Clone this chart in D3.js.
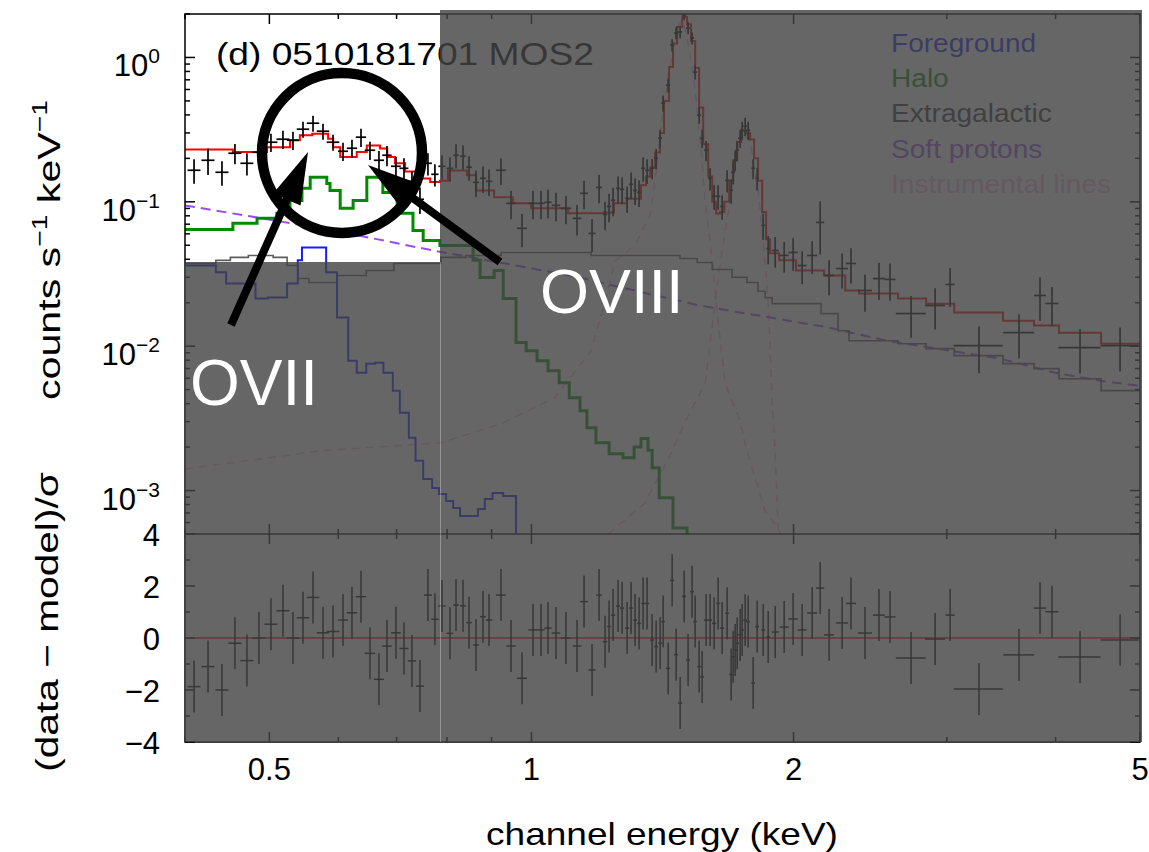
<!DOCTYPE html>
<html>
<head>
<meta charset="utf-8">
<script src="https://cdn.jsdelivr.net/npm/d3@7"></script>
<style>
  body { margin: 0; background: #ffffff; }
  svg { display: block; }
  text { font-family: "Liberation Sans", Arial, Helvetica, sans-serif; }
</style>
</head>
<body>
<svg id="chart" width="1149" height="852"></svg>
<script>
// ---------------- Spectrum data (keV, counts s^-1 keV^-1) ----------------
const dataE = [0.4097,0.4251,0.4411,0.4565,0.4712,0.4864,0.5021,0.5183,0.5322,0.5465,0.5612,0.5762,0.5917,0.6075,0.6221,0.6371,0.6524,0.6681,0.6824,0.6988,0.7138,0.7290,0.7446,0.7605,0.7747,
  0.7892,0.8061,0.8191,0.8344,0.8478,0.8635,0.8797,0.8939,0.9226,0.9474,0.9753,1.0041,1.0256,1.0447,1.0671,1.0956,1.1281,1.1492,1.1738,1.1958,
  1.2149,1.2278,1.2409,1.2574,1.2708,1.2878,1.3015,1.3153,1.3293,1.3435,1.3578,1.3759,1.3906,1.4053,1.4166,1.4354,1.4507,1.4661,1.4818,1.4973,1.5132,1.5293,1.5416,1.5580,1.5704,
  1.5871,1.6040,1.6211,1.6383,1.6558,1.6778,1.6956,1.7048,1.7138,1.7229,1.7366,1.7458,1.7597,1.7737,1.7974,1.8165,1.8456,1.8702,
  1.9052,1.9510,1.9979,2.0460,2.1009,2.1458,2.1973,2.2742,2.3281,2.4160,2.5070,2.5812,
  2.7291,2.9082,3.0259,3.2661,3.6309,3.8381,3.9620,4.2668,4.7435];
const dataDE = [0.0070,0.0073,0.0076,0.0079,0.0081,0.0084,0.0086,0.0089,0.0085,0.0090,0.0092,0.0095,0.0098,0.0080,0.0085,0.0087,0.0090,0.0090,0.0085,0.0090,0.0085,0.0080,0.0080,0.0080,0.0075,
  0.0075,0.0070,0.0060,0.0065,0.0065,0.0070,0.0070,0.0075,0.0120,0.0120,0.0130,0.0120,0.0100,0.0100,0.0120,0.0150,0.0130,0.0120,0.0110,0.0095,
  0.007,0.007,0.007,0.007,0.007,0.007,0.007,0.007,0.007,0.007,0.007,0.007,0.007,0.007,0.007,0.008,0.008,0.008,0.008,0.008,0.008,0.008,0.008,0.008,0.008,
  0.009,0.009,0.009,0.009,0.009,0.009,0.009,0.009,0.009,0.009,0.009,0.009,0.009,0.009,0.009,0.009,0.009,0.009,
  0.018,0.023,0.024,0.024,0.028,0.023,0.029,0.036,0.031,0.045,0.040,0.038,
  0.108,0.077,0.036,0.212,0.149,0.061,0.068,0.237,0.238];
const dataRate = [0.1654,0.1940,0.1602,0.2170,0.1849,0.2205,0.2587,0.2714,0.2671,0.3184,0.3504,0.3084,0.2587,0.2240,0.2350,0.2803,0.2277,0.1940,0.2102,0.1763,0.1707,0.1387,0.1041,0.1849,0.1551,
  0.1763,0.1707,0.2102,0.2068,0.1735,0.1365,0.1455,0.1387,0.1654,0.0976,0.0655,0.0976,0.0976,0.0992,0.0945,0.0901,0.0768,0.1145,0.0604,0.1260,
  0.0818,0.0930,0.1024,0.1240,0.1220,0.1057,0.1322,0.1201,0.1163,0.1707,0.1654,0.1707,0.2003,0.2758,0.4825,0.6432,1.2187,1.4765,1.5003,1.968,1.5993,1.3629,0.7917,0.3983,0.2758,
  0.2277,0.1455,0.1092,0.1092,0.0930,0.1409,0.1201,0.1602,0.1940,0.2277,0.2758,0.3133,0.3341,0.3133,0.1707,0.1455,0.0687,0.0475,
  0.0460,0.0425,0.0446,0.0362,0.0425,0.0720,0.0309,0.0345,0.0374,0.0243,0.0294,0.0290,
  0.01683,0.01913,0.02675,0.01009,0.01242,0.02244,0.01975,0.00978,0.01009];
const dataErr = [0.0318,0.0404,0.0308,0.0347,0.0325,0.0353,0.0373,0.0391,0.0385,0.0408,0.0449,0.0395,0.0331,0.0323,0.0338,0.0404,0.0328,0.0310,0.0336,0.0282,0.0300,0.0244,0.0217,0.0325,0.0273,
  0.0338,0.0328,0.0404,0.0397,0.0333,0.0284,0.0303,0.0289,0.0344,0.0219,0.0168,0.0219,0.0219,0.0222,0.0212,0.0202,0.0184,0.0256,0.0155,0.0282,
  0.0183,0.0208,0.0229,0.0258,0.0254,0.0220,0.0275,0.0250,0.0242,0.0328,0.0318,0.0273,0.0320,0.0397,0.0618,0.0720,0.117,0.142,0.144,0.157,0.154,0.131,0.0887,0.0510,0.0397,
  0.0364,0.0256,0.0210,0.0210,0.0179,0.0248,0.0231,0.0282,0.0310,0.0364,0.0397,0.0451,0.0481,0.0451,0.0273,0.0256,0.0143,0.0106,
  0.0110,0.0102,0.0114,0.0093,0.0109,0.0288,0.0084,0.0094,0.0102,0.0070,0.0085,0.0084,
  0.0054,0.0061,0.0081,0.0036,0.0042,0.0075,0.0060,0.0033,0.0034];
// (data - model)/sigma
const dataResid = [-1.87,-1.1,-2.0,-0.2,-0.87,0.0,0.53,1.05,0.0,0.78,1.56,0.2,0.25,0.69,0.97,1.59,-0.59,-1.59,-0.31,0.2,-0.4,-0.88,-1.85,1.65,0.72,
  1.23,0.18,1.27,1.24,0.59,-0.27,0.82,0.69,1.65,-0.31,-1.55,0.31,0.31,0.38,0.19,0.0,-0.31,1.4,-1.23,1.65,
  -0.14,0.44,0.88,1.23,1.15,0.38,1.15,0.69,0.56,1.33,1.33,-0.08,-0.33,-0.2,0.63,-1.17,2.22,-0.64,-2.5,1.6,-0.85,1.78,0.63,-1.1,-1.5,
  0.69,0.69,0.56,1.33,0.38,0.95,-1.4,-0.72,-0.46,-0.2,0.12,0.31,0.69,0.63,-1.73,0.44,0.31,0.04,
  0.23,0.42,0.73,0.31,0.96,1.92,0.12,0.58,1.33,0.19,0.88,0.81,
  -0.77,-0.04,0.88,-1.96,-0.65,1.15,1.01,-0.73,-0.08];

// ---------------- Model components: [energy keV, counts s^-1 keV^-1] ----------------
const totalModel = [[0.40,0.230],[0.454,0.221],[0.497,0.239],[0.528,0.267],[0.542,0.289],[0.560,0.296],[0.584,0.274],[0.592,0.239],[0.603,0.204],[0.630,0.221],[0.647,0.246],[0.670,0.234],[0.683,0.204],[0.697,0.185],[0.716,0.162],[0.739,0.145],[0.765,0.137],[0.785,0.140],[0.802,0.165],[0.843,0.153],[0.864,0.120],[0.906,0.1075],[0.952,0.0976],[0.999,0.0901],[1.102,0.0832],[1.211,0.0845],[1.244,0.0976],[1.287,0.105],[1.336,0.130],[1.354,0.150],[1.369,0.173],[1.387,0.22],[1.405,0.30],[1.420,0.50],[1.439,0.86],[1.454,1.25],[1.470,1.63],[1.490,1.91],[1.509,1.70],[1.525,1.30],[1.542,0.85],[1.558,0.45],[1.575,0.25],[1.596,0.15],[1.613,0.10],[1.630,0.083],[1.647,0.085],[1.665,0.10],[1.687,0.14],[1.705,0.194],[1.723,0.26],[1.741,0.31],[1.764,0.30],[1.783,0.27],[1.802,0.20],[1.821,0.14],[1.841,0.085],[1.860,0.055],[1.879,0.044],[1.925,0.0393],[2.013,0.0335],[2.168,0.0309],[2.293,0.0243],[2.379,0.0232],[2.636,0.0214],[2.840,0.0197],[3.059,0.0171],[3.480,0.0150],[3.778,0.0139],[4.036,0.0124],[4.511,0.0104],[5.0,0.0104]];
const haloModel = [[0.40,0.0644],[0.454,0.0710],[0.484,0.0768],[0.510,0.0832],[0.528,0.102],[0.545,0.124],[0.557,0.148],[0.582,0.134],[0.587,0.120],[0.603,0.0901],[0.624,0.102],[0.647,0.148],[0.675,0.116],[0.701,0.0832],[0.731,0.0634],[0.751,0.0540],[0.785,0.0499],[0.857,0.0393],[0.873,0.0299],[0.906,0.0335],[0.928,0.0214],[0.960,0.0106],[0.986,0.0093],[1.015,0.00794],[1.045,0.00676],[1.076,0.00558],[1.105,0.00440],[1.137,0.00357],[1.158,0.00272],[1.186,0.00214],[1.228,0.00180],[1.274,0.00169],[1.312,0.00200],[1.336,0.00229],[1.361,0.00190],[1.376,0.00144],[1.402,0.00089],[1.454,0.00055],[1.509,0.00032],[5.0,0.00032]];
const foregroundModel = [[0.40,0.0362],[0.434,0.0325],[0.446,0.0272],[0.482,0.0214],[0.498,0.0217],[0.524,0.0272],[0.539,0.0393],[0.545,0.0483],[0.581,0.0325],[0.598,0.0158],[0.616,0.00794],[0.630,0.00655],[0.646,0.00757],[0.661,0.00769],[0.676,0.00655],[0.693,0.00492],[0.706,0.00346],[0.723,0.00232],[0.736,0.00161],[0.751,0.00120],[0.769,0.00104],[0.783,0.000948],[0.798,0.000848],[0.813,0.000758],[0.828,0.000667],[0.868,0.000746],[0.884,0.000875],[0.902,0.000963],[0.928,0.000918],[0.960,0.0004],[5.0,0.0004]];
const extragalacticModel = [[0.40,0.0374],[0.434,0.0393],[0.451,0.0412],[0.473,0.0425],[0.505,0.0412],[0.524,0.0362],[0.539,0.0294],[0.555,0.0276],[0.598,0.0309],[0.646,0.0334],[0.695,0.0374],[0.787,0.0412],[0.841,0.0425],[0.923,0.0446],[1.171,0.0425],[1.481,0.0405],[1.55,0.0380],[1.613,0.0340],[1.70,0.0300],[1.768,0.0276],[1.82,0.0240],[1.855,0.0217],[1.890,0.0197],[2.151,0.0168],[2.250,0.0128],[2.316,0.0109],[2.636,0.0104],[2.840,0.00962],[3.059,0.00860],[3.480,0.00757],[3.778,0.00699],[4.036,0.00595],[4.511,0.00492],[5.0,0.00492]];
const softProtonModel = [[0.40,0.0945],[0.475,0.0793],[0.592,0.0634],[0.771,0.0460],[0.920,0.0380],[1.137,0.0299],[1.199,0.0276],[1.562,0.0191],[2.191,0.0135],[2.561,0.0109],[3.026,0.0093],[3.453,0.0082],[3.994,0.00655],[4.499,0.00576],[5.0,0.00532]];
const alLineModel = [[0.40,0.00141],[0.576,0.00189],[0.787,0.00214],[0.923,0.00290],[1.064,0.00440],[1.171,0.00932],[1.215,0.0204],[1.247,0.0385],[1.315,0.050],[1.369,0.081],[1.391,0.165],[1.412,0.37],[1.439,0.80],[1.470,1.58],[1.490,1.86],[1.509,1.42],[1.542,0.594],[1.566,0.228],[1.583,0.1023],[1.613,0.0393],[1.638,0.0150],[1.669,0.0055],[1.736,0.00304],[1.768,0.00189],[1.855,0.000723],[1.920,0.000551],[1.98,0.00035]];
const siLineModel = [[1.2246,0.0005],[1.347,0.000809],[1.439,0.00169],[1.509,0.00319],[1.583,0.0055],[1.630,0.0232],[1.656,0.046],[1.691,0.1023],[1.723,0.228],[1.754,0.29],[1.783,0.267],[1.821,0.120],[1.850,0.046],[1.870,0.0207],[1.890,0.00419],[1.905,0.00189],[1.920,0.000551],[1.930,0.00033]];

// ---------------- Axis ticks and texts ----------------
const xTickValues = [0.4,0.5,0.6,0.7,0.8,0.9,1,2,3,4,5];
const xTickLabels = ["0.5","1","2","5"];
const yDecades = [-3,-2,-1,0];
const residTicks = [-4,-3,-2,-1,0,1,2,3,4];
const residTickLabels = ["4","2","0","\u22122","\u22124"];
const legendLabels = ["Foreground","Halo","Extragalactic","Soft protons","Instrumental lines"];
const titleText = "(d) 0510181701 MOS2";

// ---------------- Layout ----------------
const L = 185, R = 1140, T = 14, MID = 534, B = 742;
const svg = d3.select("#chart");

const x = d3.scaleLog().domain([0.4, 5]).range([L, R]);
const y = d3.scaleLog().domain([5e-4, 2]).range([MID, T]);
const yr = d3.scaleLinear().domain([-4, 4]).range([B, MID]);

const defs = svg.append("defs");
defs.append("clipPath").attr("id", "clipTop").append("rect")
  .attr("x", L).attr("y", T).attr("width", R - L).attr("height", MID - T);
defs.append("clipPath").attr("id", "clipBot").append("rect")
  .attr("x", L).attr("y", MID).attr("width", R - L).attr("height", B - MID);

const colors = {
  total: "#ff0000", halo: "#008a00", fore: "#1a1aff", extra: "#5c5c5c",
  soft: "#9b4dea", instr: "#f2b6d6"
};

const upper = svg.append("g").attr("clip-path", "url(#clipTop)");
const lineLin = d3.line().x(d => x(d[0])).y(d => y(d[1]));
const lineStep = d3.line().x(d => x(d[0])).y(d => y(d[1])).curve(d3.curveStepAfter);

// instrumental lines (dashed)
[alLineModel, siLineModel].forEach(m => {
  upper.append("path").attr("d", lineLin(m)).attr("fill", "none")
    .attr("stroke", colors.instr).attr("stroke-width", 1.6).attr("stroke-dasharray", "8,6");
});
// soft protons (dashed)
upper.append("path").attr("d", lineLin(softProtonModel)).attr("fill", "none")
  .attr("stroke", colors.soft).attr("stroke-width", 2).attr("stroke-dasharray", "10,6");
// extragalactic
upper.append("path").attr("d", lineStep(extragalacticModel)).attr("fill", "none")
  .attr("stroke", colors.extra).attr("stroke-width", 1.6);
// foreground
upper.append("path").attr("d", lineStep(foregroundModel)).attr("fill", "none")
  .attr("stroke", colors.fore).attr("stroke-width", 2);
// halo
upper.append("path").attr("d", lineStep(haloModel)).attr("fill", "none")
  .attr("stroke", colors.halo).attr("stroke-width", 3);
// total model
upper.append("path").attr("d", lineStep(totalModel)).attr("fill", "none")
  .attr("stroke", colors.total).attr("stroke-width", 2);

// data crosses
const idx = d3.range(dataE.length);
const cross = upper.append("g").attr("stroke", "#000").attr("stroke-width", 1.7);
cross.selectAll("line.h").data(idx).join("line").attr("class", "h")
  .attr("x1", i => x(dataE[i] - dataDE[i])).attr("x2", i => x(dataE[i] + dataDE[i]))
  .attr("y1", i => y(dataRate[i])).attr("y2", i => y(dataRate[i]));
cross.selectAll("line.v").data(idx).join("line").attr("class", "v")
  .attr("x1", i => x(dataE[i])).attr("x2", i => x(dataE[i]))
  .attr("y1", i => y(Math.max(dataRate[i] - dataErr[i], 1e-6)))
  .attr("y2", i => y(dataRate[i] + dataErr[i]));

// residual panel
const lower = svg.append("g").attr("clip-path", "url(#clipBot)");
lower.append("line").attr("x1", L).attr("x2", R).attr("y1", yr(0)).attr("y2", yr(0))
  .attr("stroke", colors.total).attr("stroke-width", 1.3);
const rc = lower.append("g").attr("stroke", "#000").attr("stroke-width", 1.5);
rc.selectAll("line.h").data(idx).join("line").attr("class", "h")
  .attr("x1", i => x(dataE[i] - dataDE[i])).attr("x2", i => x(dataE[i] + dataDE[i]))
  .attr("y1", i => yr(dataResid[i])).attr("y2", i => yr(dataResid[i]));
rc.selectAll("line.v").data(idx).join("line").attr("class", "v")
  .attr("x1", i => x(dataE[i])).attr("x2", i => x(dataE[i]))
  .attr("y1", i => yr(dataResid[i] - 1)).attr("y2", i => yr(dataResid[i] + 1));

// frame and ticks
const axes = svg.append("g").attr("stroke", "#000").attr("stroke-width", 1.5).attr("fill", "none");
axes.append("rect").attr("x", L).attr("y", T).attr("width", R - L).attr("height", B - T);
axes.append("line").attr("x1", L).attr("x2", R).attr("y1", MID).attr("y2", MID);
const MAJ = 10, MIN = 5;
const isMajorX = v => [0.5, 1, 2, 5].includes(v);
xTickValues.forEach(v => {
  const len = isMajorX(v) ? MAJ : MIN, px = x(v);
  [[T, 1], [MID, -1], [MID, 1], [B, -1]].forEach(([y0, dir]) => {
    axes.append("line").attr("x1", px).attr("x2", px).attr("y1", y0).attr("y2", y0 + dir * len);
  });
});
const yTickValues = [];
yDecades.concat([-4]).forEach(n => {
  for (let k = 1; k <= 9; k++) {
    const v = k * Math.pow(10, n);
    if (v >= 5e-4 - 1e-12 && v <= 2 + 1e-9) yTickValues.push({ v, major: k === 1 });
  }
});
yTickValues.forEach(t => {
  const len = t.major ? MAJ : MIN, py = y(t.v);
  axes.append("line").attr("x1", L).attr("x2", L + len).attr("y1", py).attr("y2", py);
  axes.append("line").attr("x1", R).attr("x2", R - len).attr("y1", py).attr("y2", py);
});
residTicks.forEach(v => {
  const len = v % 2 === 0 ? MAJ : MIN, py = yr(v);
  axes.append("line").attr("x1", L).attr("x2", L + len).attr("y1", py).attr("y2", py);
  axes.append("line").attr("x1", R).attr("x2", R - len).attr("y1", py).attr("y2", py);
});

// tick labels
const labels = svg.append("g").attr("fill", "#000");
[0.5, 1, 2, 5].forEach((v, i) => {
  labels.append("text").attr("x", x(v)).attr("y", 780).attr("text-anchor", "middle")
    .attr("font-size", 31).text(xTickLabels[i]);
});
yDecades.forEach(n => {
  const t = labels.append("text").attr("x", 160).attr("y", y(Math.pow(10, n)) + 19)
    .attr("text-anchor", "end").attr("font-size", 31);
  t.append("tspan").text("10");
  t.append("tspan").attr("dy", -13).attr("font-size", 21).text(n === 0 ? "0" : "\u2212" + Math.abs(n));
});
[4, 2, 0, -2, -4].forEach((v, i) => {
  labels.append("text").attr("x", 160).attr("y", yr(v) + 12).attr("text-anchor", "end")
    .attr("font-size", 31).text(residTickLabels[i]);
});

// stretch a text element horizontally to a given width
function stretch(sel, tx, ty, rot, width) {
  const w = sel.node().getBBox().width;
  sel.attr("transform", `translate(${tx},${ty}) rotate(${rot}) scale(${width / w},1)`);
}

// axis titles
const xl = labels.append("text").attr("text-anchor", "middle").attr("font-size", 32)
  .text("channel energy (keV)");
stretch(xl, 662, 845, 0, 352);

const yl = labels.append("text").attr("text-anchor", "middle").attr("font-size", 32);
yl.append("tspan").text("counts s");
yl.append("tspan").attr("dy", -13).attr("font-size", 22).text("\u22121");
yl.append("tspan").attr("dy", 13).text(" keV");
yl.append("tspan").attr("dy", -13).attr("font-size", 22).text("\u22121");
stretch(yl, 60, 250, -90, 300);

const rl = labels.append("text").attr("text-anchor", "middle").attr("font-size", 32)
  .text("(data \u2212 model)/\u03c3");
stretch(rl, 58, 622, -90, 300);

// panel title
const tt = labels.append("text").attr("font-size", 31).text(titleText);
stretch(tt, 216, 65, 0, 378);

// legend
const legendColors = [colors.fore, colors.halo, "#333333", colors.soft, colors.instr];
legendLabels.forEach((s, i) => {
  const t = svg.append("text").attr("font-size", 26).attr("fill", legendColors[i]).text(s);
  const w = t.node().getBBox().width;
  stretch(t, 891, 52 + i * 35.2, 0, w * 1.08);
});

// ---------------- shading over the plot, leaving the soft-band window clear ----------------
svg.append("path")
  .attr("d", `M440,10 H1142 V${B} H184 V262 H440 Z`)
  .attr("fill", "#434343").attr("fill-opacity", 0.816);
svg.append("line").attr("x1", 440.5).attr("x2", 440.5).attr("y1", 262).attr("y2", B)
  .attr("stroke", "#ffffff").attr("stroke-opacity", 0.3).attr("stroke-width", 1);

// ---------------- oxygen line callouts ----------------
const ann = svg.append("g");
ann.append("circle").attr("cx", 342).attr("cy", 153).attr("r", 80)
  .attr("fill", "none").attr("stroke", "#000").attr("stroke-width", 10.5);
function arrow(tail, tip) {
  const dx = tip[0] - tail[0], dy = tip[1] - tail[1], len = Math.hypot(dx, dy);
  const ux = dx / len, uy = dy / len, nx = -uy, ny = ux;
  const headLen = 52, headW = 30;
  const bx = tip[0] - ux * headLen, by = tip[1] - uy * headLen;
  ann.append("line").attr("x1", tail[0]).attr("y1", tail[1]).attr("x2", bx + ux * 4).attr("y2", by + uy * 4)
    .attr("stroke", "#000").attr("stroke-width", 8);
  ann.append("polygon")
    .attr("points", [[tip[0], tip[1]], [bx + nx * headW / 2, by + ny * headW / 2], [bx - nx * headW / 2, by - ny * headW / 2]].map(p => p.join(",")).join(" "))
    .attr("fill", "#000");
}
arrow([231, 325], [308, 152]);
arrow([500, 262], [368, 165]);
ann.append("text").attr("x", 190).attr("y", 405).attr("font-size", 64).attr("fill", "#fff").text("OVII");
ann.append("text").attr("x", 540).attr("y", 313).attr("font-size", 63).attr("fill", "#fff").text("OVIII");
</script>
</body>
</html>
